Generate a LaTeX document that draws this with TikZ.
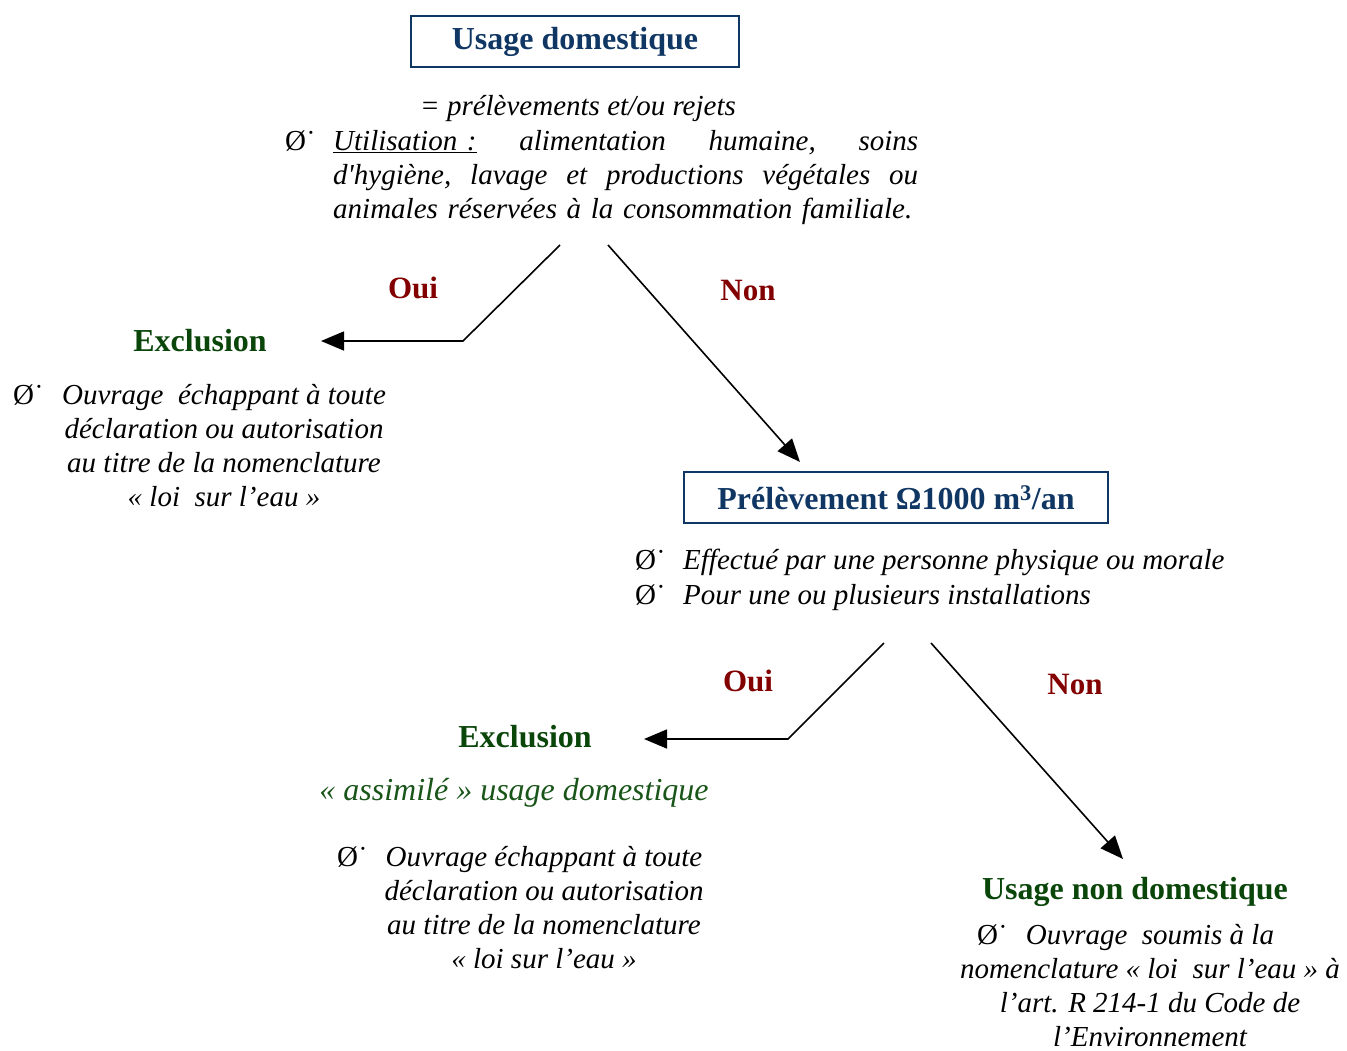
\documentclass[tikz,border=0pt]{standalone}
\usepackage{fontspec}
\setmainfont{Liberation Serif}
\usetikzlibrary{arrows.meta}
\definecolor{hblue}{RGB}{16,55,100}
\definecolor{hred}{RGB}{130,0,0}
\definecolor{hgreen}{RGB}{10,70,10}
\definecolor{lgreen}{RGB}{25,85,25}
\begin{document}
\begin{tikzpicture}[x=1pt,y=-1pt,
 hbox/.style={draw=hblue,line width=1.5pt,inner sep=0pt,minimum height=51pt,text=hblue,font=\bfseries\fontsize{32}{36}\selectfont},
 ans/.style={text=hred,font=\bfseries\fontsize{31}{36}\selectfont,inner sep=0pt,anchor=base},
 head/.style={text=hgreen,font=\bfseries\fontsize{32}{36}\selectfont,inner sep=0pt,anchor=base},
 body/.style={font=\itshape\fontsize{29}{34}\selectfont,inner sep=0pt},
 blk/.style={body,align=center,anchor=base},
 bul/.style={font=\upshape\fontsize{29}{34}\selectfont,inner sep=0pt,anchor=base west},
 arr/.style={line width=1.6pt,-{Triangle[length=23pt,width=19pt]}}
]
\path[use as bounding box] (0,0) rectangle (1347,1050);

% top box
\node[hbox,minimum width=328pt] (b1) at (575,41.5) {Usage domestique};
\node[body,anchor=base] (def) at (578,115) {= prélèvements et/ou rejets};
\node[bul] (bp) at (285,150) {Ø˙};
\node[body,anchor=base west,text width=585pt,align=left] (para) at (333,150)
 {\underline{Utilisation~:}\hfill alimentation\hfill humaine,\hfill soins\\
  d\textquotesingle hygiène,\hfill lavage\hfill et\hfill productions\hfill végétales\hfill ou\\
  animales réservées à la consommation familiale.};

% first split
\coordinate (o1s) at (560,245);
\coordinate (o1b) at (463,341);
\coordinate (o1e) at (321,341);
\coordinate (n1s) at (608,245);
\coordinate (n1e) at (800,462);
\draw[arr] (o1s) -- (o1b) -- (o1e);
\draw[arr] (n1s) -- (n1e);
\node[ans] (oui1) at (413,298) {Oui};
\node[ans] (non1) at (748,300) {Non};

% left exclusion
\node[head] (ex1) at (200,351) {Exclusion};
\node[bul] (bl) at (13,404) {Ø˙};
\node[blk] (txl) at (224,506) {Ouvrage~ échappant à toute\\déclaration ou autorisation\\au titre de la nomenclature\\« loi~ sur l’eau »};

% second box
\node[hbox,minimum width=424pt] (b2) at (896,497.5) {Prélèvement Ω1000 m\textsuperscript{3}/an};
\node[bul] (bb1) at (635,569) {Ø˙};
\node[body,anchor=base west] (e1) at (683,569) {Effectué par une personne physique ou morale};
\node[bul] (bb2) at (635,604) {Ø˙};
\node[body,anchor=base west] (e2) at (683,604) {Pour une ou plusieurs installations};

% second split
\coordinate (o2s) at (884,643);
\coordinate (o2b) at (788,739);
\coordinate (o2e) at (644,739);
\coordinate (n2s) at (931,643);
\coordinate (n2e) at (1123,859);
\draw[arr] (o2s) -- (o2b) -- (o2e);
\draw[arr] (n2s) -- (n2e);
\node[ans] (oui2) at (748,691) {Oui};
\node[ans] (non2) at (1075,694) {Non};

% middle exclusion
\node[head] (ex2) at (525,747) {Exclusion};
\node[body,anchor=base,text=lgreen,font=\itshape\fontsize{32}{36}\selectfont] (assim) at (514,800) {« assimilé » usage domestique};
\node[bul] (bm) at (337,866) {Ø˙};
\node[blk] (txm) at (544,968) {Ouvrage échappant à toute\\déclaration ou autorisation\\au titre de la nomenclature\\« loi sur l’eau »};

% right
\node[head] (und) at (1135,899) {Usage non domestique};
\node[bul] (br) at (977,944) {Ø˙};
\node[blk] (txr) at (1150,1046) {Ouvrage~ soumis à la\\nomenclature « loi~ sur l’eau » à\\l’art. R 214-1 du Code de\\l’Environnement};
\end{tikzpicture}
\end{document}
